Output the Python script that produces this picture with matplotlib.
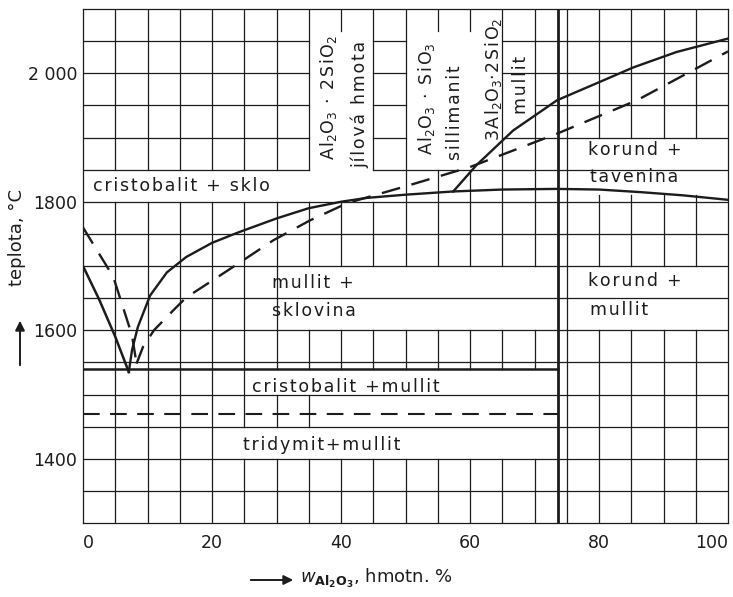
import matplotlib
matplotlib.use("Agg")
import matplotlib.pyplot as plt
import numpy as np

plt.rcParams['font.family'] = ['DejaVu Sans']
plt.rcParams['mathtext.fontset'] = 'dejavusans'

INK = '#1c1c1c'

# liquidus (solid) - SiO2 side and mullite side
sio2_x = [0, 2.5, 5, 7.1]
sio2_t = [1700, 1648, 1590, 1535]
liq_x = [7.1, 7.6, 8.5, 10.4, 13, 16, 20, 24, 30, 35, 40, 44, 50, 57.4, 65, 73.5, 80, 86.4, 93, 100]
liq_t = [1535, 1569, 1605, 1654, 1690, 1714, 1736, 1752, 1774, 1790, 1800, 1806, 1811, 1816, 1819, 1820, 1819, 1815, 1810, 1803]
mul_x = [57.4, 61, 66.7, 73.5, 80, 85.3, 92, 100]
mul_t = [1816, 1857, 1911, 1958, 1986, 2009, 2033, 2054]

# older (dashed) version of the diagram
sio2d_x = [0, 4.7, 7.6, 8.3]
sio2d_t = [1760, 1683, 1592, 1548]
liqd_x = [8.3, 9.3, 11, 14, 16, 20, 25, 29.5, 35.2, 41, 50, 60, 73.5, 85.9, 100]
liqd_t = [1548, 1574, 1600, 1631, 1651, 1677, 1710, 1740, 1771, 1798, 1824, 1854, 1906, 1958, 2034]

eut_t = 1540        # cristobalit / mullit
eut_dash_t = 1470   # tridymit / mullit
mullit_x = 73.6

# white label cells (x0, x1, t0, t1) where the grid is left out
cells = [
    (0, 50, 1800, 1850),
    (35, 45, 1800, 2065),
    (50, 65, 1850, 2065),
    (65, 70, 1900, 2000),
    (75, 100, 1810, 1850),
    (75, 100, 1850, 1900),
    (75, 100, 1600, 1650),
    (75, 100, 1650, 1700),
    (30, mullit_x, 1600, 1650),
    (30, mullit_x, 1650, 1700),
    (25, mullit_x, 1500, eut_t),
    (35, mullit_x, 1450, 1500),
    (20, mullit_x, 1400, 1450),
]

labels = [
    (1.5, 1824, 'cristobalit + sklo'),
    (29.3, 1673, 'mullit +'),
    (29.3, 1630, 'sklovina'),
    (26.2, 1511, 'cristobalit +mullit'),
    (24.8, 1421, 'tridymit+mullit'),
    (78.3, 1880, 'korund +'),
    (78.6, 1838, 'tavenina'),
    (78.3, 1676, 'korund +'),
    (78.6, 1631, 'mullit'),
]
vlabels = [
    (38.0, 1963, 'Al$_2$O$_3$ · 2SiO$_2$'),
    (43.0, 1952, 'jílová hmota'),
    (53.3, 1961, 'Al$_2$O$_3$ · SiO$_3$'),
    (57.7, 1939, 'sillimanit'),
    (63.7, 1990, '3Al$_2$O$_3$·2SiO$_2$'),
    (67.9, 1982, 'mullit'),
]


def spaced(s):
    # wider lettering: hair space between characters outside math parts
    parts = s.split('$')
    for i in range(0, len(parts), 2):
        parts[i] = '\u200a'.join(parts[i])
    return '$'.join(parts)


def gaps(lo, hi, cuts):
    cuts = sorted(cuts)
    out, start = [], lo
    for a, b in cuts:
        if a > start:
            out.append((start, a))
        start = max(start, b)
    if start < hi:
        out.append((start, hi))
    return out


fig = plt.figure(figsize=(7.33, 5.97), dpi=100)
ax = fig.add_axes([83 / 733, 1 - 523 / 597, 645 / 733, 514 / 597])
ax.set_xlim(0, 100)
ax.set_ylim(1300, 2100)

# grid drawn as segments so the label cells stay blank
for gx in range(5, 100, 5):
    cut = [(c[2], c[3]) for c in cells if c[0] < gx < c[1]]
    for a, b in gaps(1300, 2100, cut):
        ax.plot([gx, gx], [a, b], color=INK, lw=0.9, zorder=1)
for gt in range(1350, 2100, 50):
    cut = [(c[0], c[1]) for c in cells if c[2] < gt < c[3]]
    for a, b in gaps(0, 100, cut):
        ax.plot([a, b], [gt, gt], color=INK, lw=0.9, zorder=1)

ax.axvline(mullit_x, color=INK, lw=2.0, zorder=2)

ax.plot([0, mullit_x], [eut_t, eut_t], color=INK, lw=1.8, zorder=3)
ax.plot([0, mullit_x], [eut_dash_t, eut_dash_t], color=INK, lw=1.5,
        ls=(0, (8, 5)), zorder=3)

ax.plot(sio2_x, sio2_t, color=INK, lw=1.8, zorder=3)
ax.plot(liq_x, liq_t, color=INK, lw=1.7, zorder=3)
ax.plot(mul_x, mul_t, color=INK, lw=1.7, zorder=3)
ax.plot(sio2d_x, sio2d_t, color=INK, lw=1.7, ls=(0, (8, 5)), zorder=3)
ax.plot(liqd_x, liqd_t, color=INK, lw=1.7, ls=(0, (8, 5)), zorder=3)

for x, t, s in labels:
    ax.text(x, t, spaced(s), fontsize=12.5, ha='left', va='center',
            color=INK, zorder=4)
for x, t, s in vlabels:
    ax.text(x, t, spaced(s), fontsize=12.5, rotation=90, ha='center',
            va='center', color=INK, zorder=4)

for sp in ax.spines.values():
    sp.set_color(INK)
    sp.set_linewidth(0.9)

ax.set_xticks([0, 20, 40, 60, 80, 100])
ax.set_yticks([1400, 1600, 1800, 2000])
ax.set_yticklabels(['1400', '1600', '1800', '2 000'])
ax.tick_params(length=0, labelsize=12.5, colors=INK)
ax.tick_params(axis='x', pad=8)
ax.tick_params(axis='y', pad=4)
ax.get_xticklabels()[-1].set_horizontalalignment('right')
ax.get_xticklabels()[0].set_horizontalalignment('left')

# axis captions with arrows
fig.text(17 / 733, 1 - 238 / 597, 'teplota, °C', rotation=90, fontsize=13,
         ha='center', va='center', color=INK)
fig.text(300 / 733, 1 - 578 / 597, r'$w_{\mathbf{Al_2O_3}}$, hmotn. %',
         fontsize=13, ha='left', va='center', color=INK)
fig.patches.append(matplotlib.patches.FancyArrowPatch(
    (20 / 733, 1 - 368 / 597), (20 / 733, 1 - 318 / 597),
    transform=fig.transFigure, arrowstyle='-|>', mutation_scale=14,
    lw=1.4, color=INK))
fig.patches.append(matplotlib.patches.FancyArrowPatch(
    (248 / 733, 1 - 580 / 597), (296 / 733, 1 - 580 / 597),
    transform=fig.transFigure, arrowstyle='-|>', mutation_scale=14,
    lw=1.4, color=INK))

fig.savefig('out.png', dpi=100)
